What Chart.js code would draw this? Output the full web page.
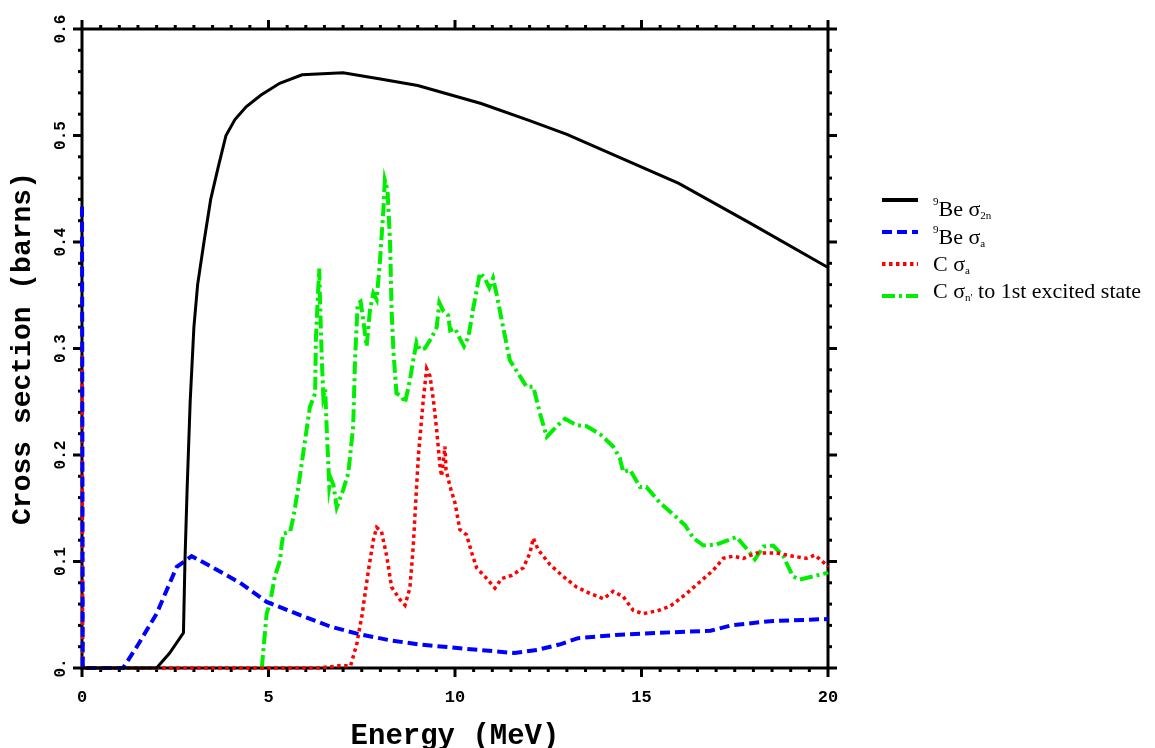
<!DOCTYPE html>
<html>
<head>
<meta charset="utf-8">
<title>Cross sections</title>
<script src="https://cdn.jsdelivr.net/npm/chart.js@4.4.3/dist/chart.umd.min.js"></script>
<style>
  html, body { margin: 0; padding: 0; background: #fff; }
  canvas { display: block; }
</style>
</head>
<body>
<canvas id="xsChart" width="1155" height="748"></canvas>
<script>
// energies in MeV, cross sections in barns
const be2nEnergy = [0, 2.0, 2.35, 2.72, 2.76, 2.82, 2.9, 3.0, 3.1, 3.27, 3.45, 3.65, 3.86, 4.1, 4.4, 4.8, 5.3, 5.9, 7.0, 8.0, 9.0, 10.7, 12.0, 13.0, 14.5, 16.0, 17.9, 20]
const be2nSigma = [0, 0, 0.014, 0.033, 0.10, 0.17, 0.25, 0.32, 0.36, 0.40, 0.44, 0.47, 0.50, 0.515, 0.527, 0.538, 0.549, 0.557, 0.559, 0.553, 0.547, 0.530, 0.514, 0.501, 0.478, 0.455, 0.418, 0.376]

const beAlphaEnergy = [0, 0.02, 1.1, 1.47, 2.0, 2.54, 2.94, 3.16, 4.24, 4.95, 5.75, 6.65, 7.4, 8.26, 9.05, 10.3, 11.6, 12.2, 12.8, 13.3, 14.3, 15.45, 16.85, 17.4, 18.45, 20]
const beAlphaSigma = [0.433, 0, 0, 0.020, 0.051, 0.095, 0.105, 0.101, 0.080, 0.062, 0.051, 0.039, 0.032, 0.026, 0.022, 0.018, 0.014, 0.017, 0.022, 0.028, 0.031, 0.033, 0.035, 0.040, 0.044, 0.046]

const cAlphaEnergy = [0, 0.02, 6.3, 6.9, 7.2, 7.37, 7.45, 7.50, 7.68, 7.81, 7.90, 8.03, 8.17, 8.30, 8.53, 8.66, 8.79, 8.88, 8.95, 9.02, 9.15, 9.24, 9.33, 9.42, 9.51, 9.60, 9.64, 9.73, 9.76, 9.87, 10.0, 10.13, 10.31, 10.45, 10.58, 10.80, 11.07, 11.25, 11.52, 11.83, 12.01, 12.10, 12.23, 12.55, 12.90, 13.26, 13.62, 13.98, 14.24, 14.51, 14.78, 15.05, 15.45, 15.77, 16.21, 16.57, 16.93, 17.19, 17.46, 17.73, 18.09, 18.62, 19.06, 19.42, 19.65, 19.95, 20]
const cAlphaSigma = [0.30, 0, 0, 0.002, 0.002, 0.023, 0.039, 0.048, 0.092, 0.120, 0.132, 0.128, 0.105, 0.076, 0.064, 0.059, 0.075, 0.114, 0.158, 0.200, 0.252, 0.281, 0.274, 0.252, 0.223, 0.189, 0.180, 0.208, 0.186, 0.170, 0.155, 0.130, 0.125, 0.108, 0.094, 0.086, 0.075, 0.084, 0.087, 0.094, 0.108, 0.122, 0.111, 0.097, 0.086, 0.076, 0.070, 0.065, 0.072, 0.067, 0.054, 0.051, 0.054, 0.058, 0.070, 0.081, 0.092, 0.103, 0.105, 0.103, 0.108, 0.108, 0.105, 0.103, 0.106, 0.097, 0.095]

const cInelEnergy = [4.82, 4.95, 5.04, 5.17, 5.31, 5.35, 5.40, 5.58, 5.67, 5.80, 5.98, 6.11, 6.25, 6.27, 6.31, 6.36, 6.38, 6.43, 6.47, 6.52, 6.56, 6.60, 6.63, 6.67, 6.74, 6.83, 7.0, 7.14, 7.27, 7.32, 7.39, 7.47, 7.54, 7.63, 7.72, 7.81, 7.90, 7.99, 8.08, 8.12, 8.19, 8.26, 8.30, 8.35, 8.43, 8.57, 8.66, 8.79, 8.88, 8.97, 9.06, 9.19, 9.37, 9.51, 9.58, 9.69, 9.82, 9.87, 10.0, 10.12, 10.24, 10.36, 10.49, 10.67, 10.80, 10.92, 11.02, 11.11, 11.29, 11.47, 11.74, 11.92, 12.10, 12.28, 12.46, 12.73, 12.95, 13.26, 13.53, 13.91, 14.24, 14.42, 14.51, 14.69, 14.96, 15.13, 15.50, 15.95, 16.17, 16.39, 16.66, 17.01, 17.55, 17.82, 18.04, 18.27, 18.53, 18.80, 19.06, 19.24, 19.95, 20]
const cInelSigma = [0, 0.051, 0.061, 0.086, 0.101, 0.115, 0.126, 0.128, 0.142, 0.170, 0.214, 0.245, 0.258, 0.308, 0.339, 0.375, 0.346, 0.289, 0.255, 0.262, 0.225, 0.195, 0.170, 0.178, 0.172, 0.151, 0.167, 0.183, 0.227, 0.289, 0.342, 0.344, 0.327, 0.302, 0.336, 0.352, 0.346, 0.383, 0.430, 0.458, 0.449, 0.399, 0.336, 0.297, 0.258, 0.255, 0.249, 0.270, 0.289, 0.306, 0.299, 0.300, 0.310, 0.320, 0.343, 0.335, 0.331, 0.317, 0.319, 0.310, 0.302, 0.311, 0.338, 0.371, 0.366, 0.357, 0.366, 0.352, 0.320, 0.289, 0.274, 0.264, 0.264, 0.239, 0.217, 0.227, 0.234, 0.228, 0.227, 0.219, 0.208, 0.197, 0.184, 0.186, 0.170, 0.170, 0.155, 0.141, 0.134, 0.122, 0.115, 0.116, 0.123, 0.112, 0.102, 0.114, 0.115, 0.105, 0.086, 0.083, 0.089, 0.090]

const xTickLabels = ['0', '5', '10', '15', '20']
const yTickLabels = ['0.', '0.1', '0.2', '0.3', '0.4', '0.5', '0.6']

// legend text pieces: [text, 'n' | 'sup' | 'sub']
const legendParts = [
  [['9', 'sup'], ['Be \u03c3', 'n'], ['2n', 'sub']],
  [['9', 'sup'], ['Be \u03c3', 'n'], ['a', 'sub']],
  [['C \u03c3', 'n'], ['a', 'sub']],
  [['C \u03c3', 'n'], ["n'", 'sub'], [' to 1st excited state', 'n']]
]

const mono = '"Liberation Mono", "Courier New", monospace'
const serif = '"Liberation Serif", "Times New Roman", serif'

function toPoints(xs, ys) {
  return xs.map((x, i) => ({x: x, y: ys[i]}))
}

// box around the plot, outward tick marks on every side
const frameTicks = {
  id: 'frameTicks',
  beforeDatasetsDraw(chart) {
    const {ctx, chartArea: a, scales: {x, y}} = chart
    const seg = (x1, y1, x2, y2) => {
      ctx.beginPath()
      ctx.moveTo(x1, y1)
      ctx.lineTo(x2, y2)
      ctx.stroke()
    }
    ctx.save()
    ctx.strokeStyle = '#000'
    ctx.lineWidth = 3
    ctx.strokeRect(a.left, a.top, a.right - a.left, a.bottom - a.top)
    for (let i = 0; i <= 40; i++) {
      const px = x.getPixelForValue(i * 0.5)
      const len = i % 10 === 0 ? 9 : 4
      seg(px, a.bottom, px, a.bottom + len)
      seg(px, a.top, px, a.top - len)
    }
    for (let i = 0; i <= 30; i++) {
      const py = y.getPixelForValue(i * 0.02)
      const len = i % 5 === 0 ? 9 : 4
      seg(a.left, py, a.left - len, py)
      seg(a.right, py, a.right + len, py)
    }
    ctx.restore()
  }
}

// legend with super/subscripts, drawn to the right of the plot
const richLegend = {
  id: 'richLegend',
  afterDraw(chart) {
    const ctx = chart.ctx
    const lineY = [200, 232, 264, 296]
    const textY = [216, 244, 271, 298]
    ctx.save()
    chart.data.datasets.forEach((ds, i) => {
      ctx.strokeStyle = ds.borderColor
      ctx.lineWidth = 4
      ctx.setLineDash(ds.borderDash || [])
      ctx.beginPath()
      ctx.moveTo(882, lineY[i])
      ctx.lineTo(918, lineY[i])
      ctx.stroke()

      ctx.fillStyle = '#000'
      ctx.textBaseline = 'alphabetic'
      let tx = 933
      legendParts[i].forEach(([s, kind]) => {
        ctx.font = (kind === 'n' ? 22 : 11) + 'px ' + serif
        const dy = kind === 'sup' ? -11 : kind === 'sub' ? 3 : 0
        ctx.fillText(s, tx, textY[i] + dy)
        tx += ctx.measureText(s).width
      })
    })
    ctx.restore()
  }
}

const data = {
  datasets: [{
    label: '9Be \u03c3 2n',
    data: toPoints(be2nEnergy, be2nSigma),
    borderColor: '#000000',
    borderWidth: 3
  }, {
    label: '9Be \u03c3 a',
    data: toPoints(beAlphaEnergy, beAlphaSigma),
    borderColor: '#0000ff',
    borderWidth: 4,
    borderDash: [10, 5]
  }, {
    label: 'C \u03c3 a',
    data: toPoints(cAlphaEnergy, cAlphaSigma),
    borderColor: '#ff0000',
    borderWidth: 3.5,
    borderDash: [3.5, 3.5]
  }, {
    label: "C \u03c3 n' to 1st excited state",
    data: toPoints(cInelEnergy, cInelSigma),
    borderColor: '#00ee00',
    borderWidth: 4,
    borderDash: [13, 4, 3, 4]
  }]
}

const config = {
  type: 'line',
  data: data,
  options: {
    responsive: false,
    animation: false,
    layout: { padding: { left: 0, top: 29, right: 327, bottom: 0 } },
    datasets: { line: { pointRadius: 0, tension: 0, fill: false, clip: false } },
    plugins: {
      legend: { display: false },
      tooltip: { enabled: false }
    },
    scales: {
      x: {
        type: 'linear',
        min: 0,
        max: 20,
        grid: { display: false, drawTicks: false },
        border: { display: false },
        ticks: {
          stepSize: 5,
          padding: 20,
          color: '#000',
          maxRotation: 0,
          font: { family: mono, size: 17, weight: 'bold' },
          callback: (v, i) => xTickLabels[i]
        },
        title: {
          display: true,
          text: 'Energy (MeV)',
          color: '#000',
          font: { family: mono, size: 29, weight: 'bold', lineHeight: 0.75 },
          padding: { top: 0, bottom: 0 }
        },
        afterFit: (s) => { s.height = 80 }
      },
      y: {
        min: 0,
        max: 0.6,
        grid: { display: false, drawTicks: false },
        border: { display: false },
        ticks: {
          stepSize: 0.1,
          padding: 7,
          color: '#000',
          minRotation: 90,
          maxRotation: 90,
          crossAlign: 'center',
          font: { family: mono, size: 16, weight: 'bold' },
          callback: (v, i) => yTickLabels[i]
        },
        title: {
          display: true,
          text: 'Cross section (barns)',
          color: '#000',
          font: { family: mono, size: 28, weight: 'bold' },
          padding: { top: 6, bottom: 0 }
        },
        afterFit: (s) => { s.width = 82 }
      }
    }
  },
  plugins: [frameTicks, richLegend]
}

new Chart(document.getElementById('xsChart'), config)
</script>
</body>
</html>
